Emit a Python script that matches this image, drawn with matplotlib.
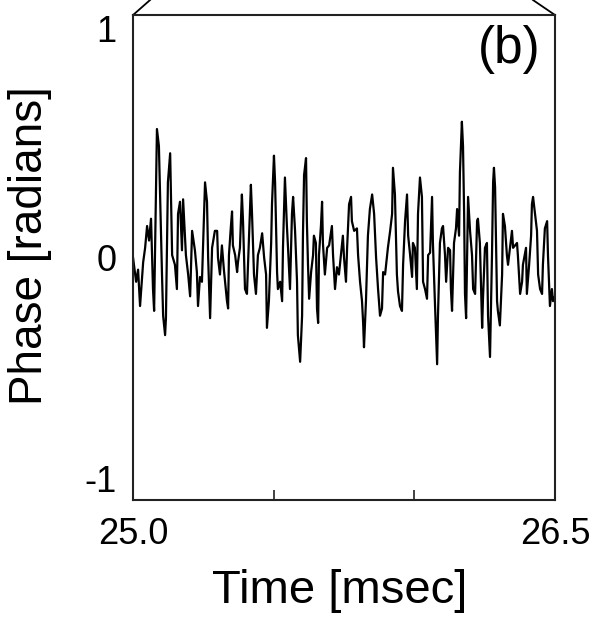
import numpy as np
import matplotlib
matplotlib.use("Agg")
import matplotlib.pyplot as plt

plt.rcParams['font.family'] = ['Liberation Sans', 'DejaVu Sans']

# time offsets from 25.0 msec
t_offset = [0.000, 0.011, 0.018, 0.025, 0.036, 0.043, 0.050, 0.057, 0.064, 0.071,
            0.075, 0.085, 0.092, 0.103, 0.107, 0.114, 0.117, 0.124, 0.132, 0.139,
            0.149, 0.156, 0.160, 0.167, 0.174, 0.178, 0.188, 0.196, 0.203, 0.210,
            0.220, 0.227, 0.231, 0.238, 0.245, 0.256, 0.263, 0.267, 0.274, 0.281,
            0.291, 0.299, 0.302, 0.309, 0.316, 0.323, 0.334, 0.338, 0.341, 0.348,
            0.352, 0.355, 0.363, 0.370, 0.373, 0.380, 0.387, 0.391, 0.398, 0.405,
            0.409, 0.419, 0.423, 0.430, 0.437, 0.444, 0.451, 0.459, 0.466, 0.473,
            0.476, 0.483, 0.491, 0.494, 0.501, 0.505, 0.512, 0.515, 0.523, 0.530,
            0.533, 0.540, 0.547, 0.551, 0.558, 0.565, 0.569, 0.576, 0.583, 0.586,
            0.594, 0.601, 0.604, 0.608, 0.615, 0.618, 0.622, 0.626, 0.633, 0.640,
            0.643, 0.650, 0.654, 0.658, 0.661, 0.668, 0.672, 0.675, 0.682, 0.690,
            0.697, 0.707, 0.711, 0.718, 0.725, 0.732, 0.739, 0.746, 0.750, 0.757,
            0.761, 0.768, 0.775, 0.778, 0.786, 0.796, 0.800, 0.807, 0.814, 0.818,
            0.821, 0.828, 0.835, 0.842, 0.850, 0.857, 0.864, 0.871, 0.878, 0.885,
            0.889, 0.896, 0.906, 0.914, 0.921, 0.924, 0.931, 0.938, 0.942, 0.949,
            0.956, 0.960, 0.967, 0.974, 0.978, 0.985, 0.992, 0.995, 1.002, 1.009,
            1.013, 1.020, 1.027, 1.031, 1.038, 1.045, 1.049, 1.056, 1.063, 1.066,
            1.073, 1.081, 1.084, 1.091, 1.098, 1.102, 1.109, 1.113, 1.120, 1.127,
            1.130, 1.134, 1.141, 1.148, 1.152, 1.159, 1.162, 1.169, 1.173, 1.177,
            1.180, 1.184, 1.187, 1.191, 1.198, 1.205, 1.209, 1.216, 1.223, 1.226,
            1.233, 1.241, 1.244, 1.251, 1.258, 1.262, 1.269, 1.276, 1.280, 1.283,
            1.287, 1.294, 1.297, 1.304, 1.312, 1.315, 1.322, 1.329, 1.333, 1.340,
            1.347, 1.351, 1.358, 1.365, 1.368, 1.376, 1.383, 1.386, 1.397, 1.400,
            1.408, 1.415, 1.418, 1.422, 1.429, 1.436, 1.440, 1.447, 1.454, 1.457,
            1.464, 1.472, 1.475, 1.482, 1.489, 1.493, 1.500]

phase = [0.00, -0.10, -0.05, -0.20, -0.02, 0.04, 0.13, 0.07, 0.16, -0.13,
         -0.22, 0.53, 0.46, -0.07, -0.24, -0.32, -0.25, 0.31, 0.43, 0.01,
         -0.03, -0.13, 0.18, 0.23, 0.03, 0.24, 0.01, -0.07, -0.16, 0.11,
         0.03, -0.06, -0.20, -0.08, -0.10, 0.31, 0.23, 0.00, -0.25, 0.04,
         0.11, 0.11, 0.00, -0.07, 0.05, -0.05, -0.18, -0.21, 0.01, 0.13,
         0.19, 0.05, 0.01, -0.06, -0.02, 0.04, 0.26, 0.15, -0.13, -0.15,
         -0.02, 0.30, 0.18, -0.07, -0.15, 0.01, 0.04, 0.10, 0.00, -0.07,
         -0.29, -0.18, 0.06, 0.22, 0.42, 0.31, -0.06, -0.13, -0.10, -0.18,
         0.04, 0.33, 0.13, 0.04, -0.13, 0.18, 0.25, 0.11, -0.10, -0.32,
         -0.43, -0.24, 0.09, 0.34, 0.41, 0.15, -0.03, -0.17, -0.06, 0.01,
         0.09, 0.06, -0.21, -0.27, 0.01, 0.13, 0.23, 0.06, -0.07, 0.04,
         0.05, 0.13, 0.01, -0.13, -0.04, -0.07, 0.01, 0.09, 0.00, -0.10,
         0.04, 0.22, 0.25, 0.15, 0.11, 0.12, 0.01, -0.10, -0.18, -0.27,
         -0.37, -0.18, 0.09, 0.20, 0.26, 0.18, 0.00, -0.13, -0.24, -0.21,
         -0.06, -0.07, 0.04, 0.11, 0.18, 0.37, 0.26, -0.07, -0.14, -0.20,
         -0.22, -0.03, 0.15, 0.26, 0.09, 0.01, -0.08, 0.06, 0.04, -0.13,
         0.18, 0.33, 0.25, -0.10, -0.13, -0.17, 0.01, 0.02, 0.25, 0.06,
         -0.18, -0.44, -0.24, 0.06, 0.12, 0.13, 0.01, -0.10, 0.04, 0.03,
         -0.13, -0.22, 0.06, 0.12, 0.20, 0.09, 0.35, 0.56, 0.46, 0.18,
         -0.15, -0.25, -0.03, 0.25, 0.11, 0.01, -0.13, -0.15, 0.15, 0.16,
         0.06, -0.29, -0.17, 0.04, 0.06, -0.24, -0.41, 0.01, 0.31, 0.37,
         0.29, -0.18, -0.22, -0.28, -0.07, 0.18, 0.13, 0.01, -0.03, 0.04,
         0.11, 0.04, 0.05, 0.06, 0.01, -0.15, -0.10, -0.03, 0.04, -0.15,
         -0.03, 0.09, 0.22, 0.25, 0.18, 0.11, -0.07, -0.13, -0.15, -0.03,
         0.12, 0.15, 0.01, -0.20, -0.13, -0.18, -0.16]

x_ticks = [25.0, 25.5, 26.0, 26.5]
x_tick_labels = ['25.0', '', '', '26.5']
y_ticks = [-1, 0, 1]
y_tick_labels = ['-1', '0', '1']

time_ms = 25.0 + np.array(t_offset)

fig = plt.figure(figsize=(5.92, 6.21), dpi=100)
ax = fig.add_axes([0.2247, 0.1948, 0.7128, 0.781])

ax.plot(time_ms, phase, color='black', lw=1.6)

ax.set_xlim(25.0, 26.5)
ax.set_ylim(-1, 1)
ax.set_xticks(x_ticks)
ax.set_xticklabels(x_tick_labels)
ax.set_yticks(y_ticks)
ax.set_yticklabels(y_tick_labels)
ax.tick_params(axis='x', direction='in', length=7, width=1.2, pad=12, labelsize=26, color='#222222')
ax.tick_params(axis='y', length=0, pad=12, labelsize=26)

# end labels sit a bit inside the axis range
ylabs = ax.get_yticklabels()
ylabs[0].set_va('bottom')
ylabs[2].set_va('top')

for s in ax.spines.values():
    s.set_linewidth(1.5)
    s.set_color('#222222')

ax.set_xlabel('Time [msec]', fontsize=34)
ax.xaxis.set_label_coords(0.49, -0.142)
ax.set_ylabel('Phase [radians]', fontsize=33)
ax.yaxis.set_label_coords(-0.192, 0.525)

ax.text(0.891, 0.928, '(b)', transform=ax.transAxes, fontsize=37, ha='center', va='center')

# zoom connector lines leaving the top corners
ax.plot([0, 0.0403], [1, 1.0309], transform=ax.transAxes, color='black', lw=1.3, clip_on=False)
ax.plot([1, 0.9479], [1, 1.0309], transform=ax.transAxes, color='black', lw=1.3, clip_on=False)

fig.savefig('out.png', dpi=100)
